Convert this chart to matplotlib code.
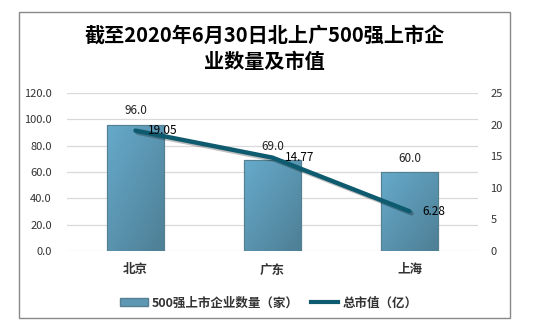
import numpy as np
import matplotlib
matplotlib.use('Agg')
import matplotlib.pyplot as plt
import matplotlib.patheffects as pe
from matplotlib.patches import Rectangle, Patch
from matplotlib.lines import Line2D

plt.rcParams['font.family'] = ['Noto Sans CJK SC', 'DejaVu Sans']

# data
cities = ['北京', '广东', '上海']
companies = [96.0, 69.0, 60.0]      # 500强上市企业数量（家）
market_value = [19.05, 14.77, 6.28]  # 总市值（亿）

BAR_LIGHT = '#66AACB'
BAR_DARK = '#4E7F95'
LINE_COLOR = '#0E5A6E'
GRID = '#D9D9D9'

fig = plt.figure(figsize=(5.44, 3.25), dpi=100)
ax = fig.add_axes([67/544, 1-251/325, (478-67)/544, (251-93)/325])
ax2 = ax.twinx()

x = np.arange(len(cities))
bars = ax.bar(x, companies, width=0.41, color=BAR_LIGHT, edgecolor='#557F92',
              linewidth=0.8, zorder=2)

# gradient fill on every bar (light top-left -> dark bottom-right)
grad = np.linspace(0, 1, 64)
gx, gy = np.meshgrid(grad, grad)
g = 0.55*gx + 0.6*gy
cmap = matplotlib.colors.LinearSegmentedColormap.from_list('b', [BAR_LIGHT, BAR_DARK])
for b in bars:
    x0, y0 = b.get_x(), b.get_y()
    w, h = b.get_width(), b.get_height()
    im = ax.imshow(g, extent=[x0, x0+w, y0, y0+h], cmap=cmap, aspect='auto',
                   origin='upper', zorder=2.1, vmin=0, vmax=1.15)
    im.set_clip_path(b)
    ax.add_patch(Rectangle((x0, y0), w, h, fill=False, edgecolor='#55808F',
                           linewidth=0.8, zorder=2.2))

for xi, v in zip(x, companies):
    ax.annotate('{:.1f}'.format(v), (xi, v), xytext=(0, 10), textcoords='offset points',
                ha='center', va='center', fontsize=8.5, color='#222222')

ax.set_ylim(0, 120)
ax.set_yticks(np.arange(0, 121, 20))
ax.set_yticklabels(['{:.1f}'.format(t) for t in np.arange(0, 121, 20)])
ax.set_xlim(-0.5, 2.5)
ax.set_xticks(x)
ax.set_xticklabels(cities, fontsize=9, fontweight='bold', color='#333333')
ax.grid(axis='y', color=GRID, linewidth=0.9, zorder=0)
ax.set_axisbelow(True)
ax.tick_params(axis='y', length=0, pad=11, labelsize=8, labelcolor='#333333')
ax.tick_params(axis='x', length=0, pad=9)
for s in ax.spines.values():
    s.set_visible(False)

ax2.plot(x, market_value, color=LINE_COLOR, linewidth=3.2, solid_capstyle='round',
         zorder=5, path_effects=[pe.SimpleLineShadow(offset=(1.5, -1.5), alpha=0.25),
                                 pe.Normal()])
for xi, v in zip(x, market_value):
    ax2.annotate('{:.2f}'.format(v), (xi, v), xytext=(9, 0), textcoords='offset points',
                 ha='left', va='center', fontsize=8.5, color='black', zorder=6)
ax2.set_ylim(0, 25)
ax2.set_yticks(np.arange(0, 26, 5))
ax2.tick_params(axis='y', length=0, pad=9, labelsize=8, labelcolor='#333333')
for s in ax2.spines.values():
    s.set_visible(False)

fig.text(0.486, 1-35/325, '截至2020年6月30日北上广500强上市企', ha='center', va='center',
         fontsize=14.5, fontweight='bold', color='black')
fig.text(0.486, 1-62/325, '业数量及市值', ha='center', va='center',
         fontsize=14.5, fontweight='bold', color='black')

handles = [Patch(facecolor='#5D97B3', edgecolor='#557F92'),
           Line2D([0], [0], color=LINE_COLOR, linewidth=3)]
fig.legend(handles, ['500强上市企业数量（家）', '总市值（亿）'], loc='center',
           bbox_to_anchor=(0.494, 1-303/325), ncol=2, frameon=False,
           prop={'size': 9, 'weight': 'bold'}, handlelength=2.2, handleheight=0.6,
           handletextpad=0.3, columnspacing=1.0, labelcolor='#333333')

fig.patches.append(Rectangle((19/544, 1-318/325), (510-19)/544, (318-12)/325,
                             transform=fig.transFigure, fill=False,
                             edgecolor='#898989', linewidth=1.0))

fig.savefig('out.png', dpi=100)
